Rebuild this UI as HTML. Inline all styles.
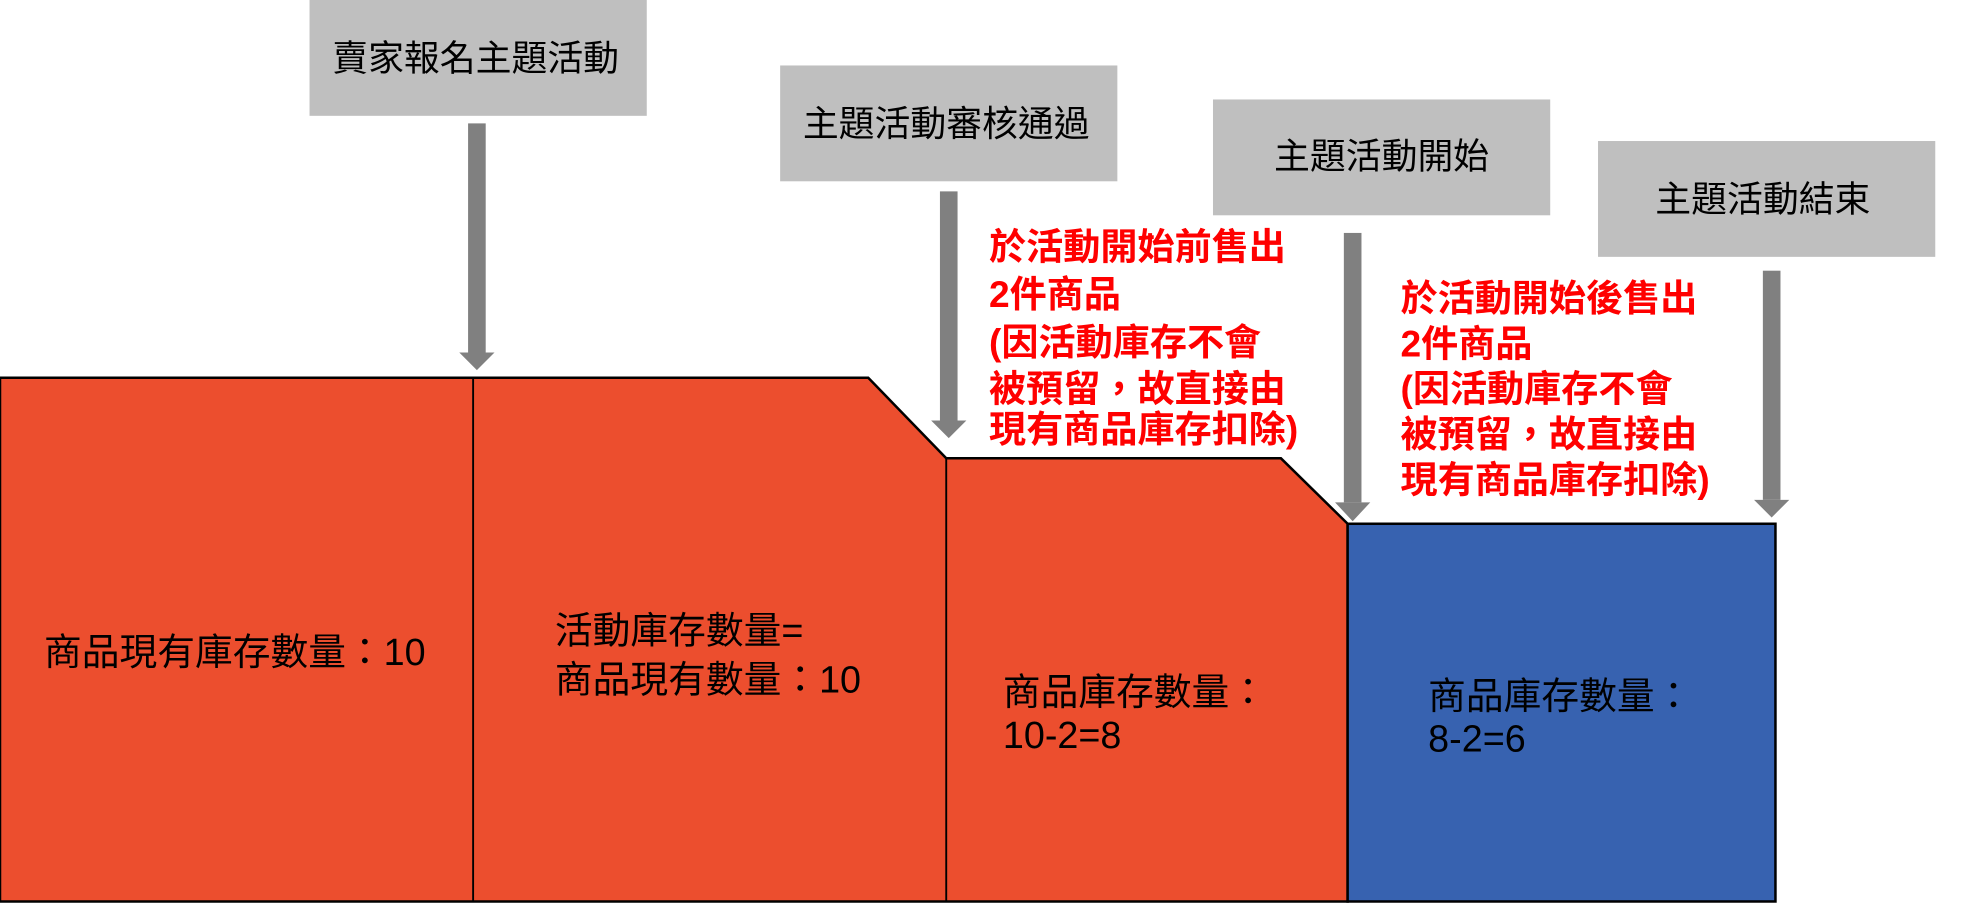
<!DOCTYPE html>
<html><head><meta charset="utf-8"><style>
html,body{margin:0;padding:0;background:#fff;width:1973px;height:904px;overflow:hidden}
svg{display:block}
text{font-family:"Liberation Sans","Noto Sans CJK TC",sans-serif}
</style></head><body>
<svg width="1973" height="904" viewBox="0 0 1568 718" preserveAspectRatio="none">
<g fill="#bfbfbf">
<rect x="246" y="0" width="268" height="92"/>
<rect x="620" y="52" width="268" height="92"/>
<rect x="964" y="79" width="268" height="92"/>
<rect x="1270" y="112" width="268" height="92"/>
</g>
<g font-size="28.5" fill="#000" text-anchor="middle">
<text x="378" y="56">賣家報名主題活動</text>
<text x="752" y="108">主題活動審核通過</text>
<text x="1098" y="134">主題活動開始</text>
<text x="1401" y="168">主題活動結束</text>
</g>
<g fill="#808080">
<rect x="372" y="98" width="14" height="182"/><polygon points="365,280 393,280 379,294"/>
<rect x="747" y="152" width="14" height="182"/><polygon points="740,334 768,334 754,348"/>
<rect x="1068" y="185" width="14" height="214"/><polygon points="1061,399 1089,399 1075,414"/>
<rect x="1401" y="215" width="14" height="182"/><polygon points="1394,397 1422,397 1408,411"/>
</g>
<polygon points="0,300 690,300 752,364 1018,364 1071,416 1071,716 0,716" fill="#ec4e2e" stroke="#000" stroke-width="2"/>
<line x1="376" y1="300" x2="376" y2="716" stroke="#000" stroke-width="1.5"/>
<line x1="752" y1="364" x2="752" y2="716" stroke="#000" stroke-width="1.5"/>
<rect x="1071" y="416" width="340" height="300" fill="#3762b0" stroke="#000" stroke-width="2"/>
<g font-size="30" fill="#000">
<text x="35" y="528">商品現有庫存數量：10</text>
<text x="441" y="511">活動庫存數量=</text>
<text x="441" y="550">商品現有數量：10</text>
<text x="797" y="560">商品庫存數量：</text>
<text x="797" y="594">10-2=8</text>
<text x="1135" y="563">商品庫存數量：</text>
<text x="1135" y="597">8-2=6</text>
</g>
<g font-size="29.5" fill="#f00" font-weight="bold">
<text x="786" y="206">於活動開始前售出</text>
<text x="786" y="244">2件商品</text>
<text x="786" y="282">(因活動庫存不會</text>
<text x="786" y="319">被預留，故直接由</text>
<text x="786" y="351">現有商品庫存扣除)</text>
<text x="1113" y="247">於活動開始後售出</text>
<text x="1113" y="283">2件商品</text>
<text x="1113" y="319">(因活動庫存不會</text>
<text x="1113" y="355">被預留，故直接由</text>
<text x="1113" y="391">現有商品庫存扣除)</text>
</g>
</svg>
</body></html>
